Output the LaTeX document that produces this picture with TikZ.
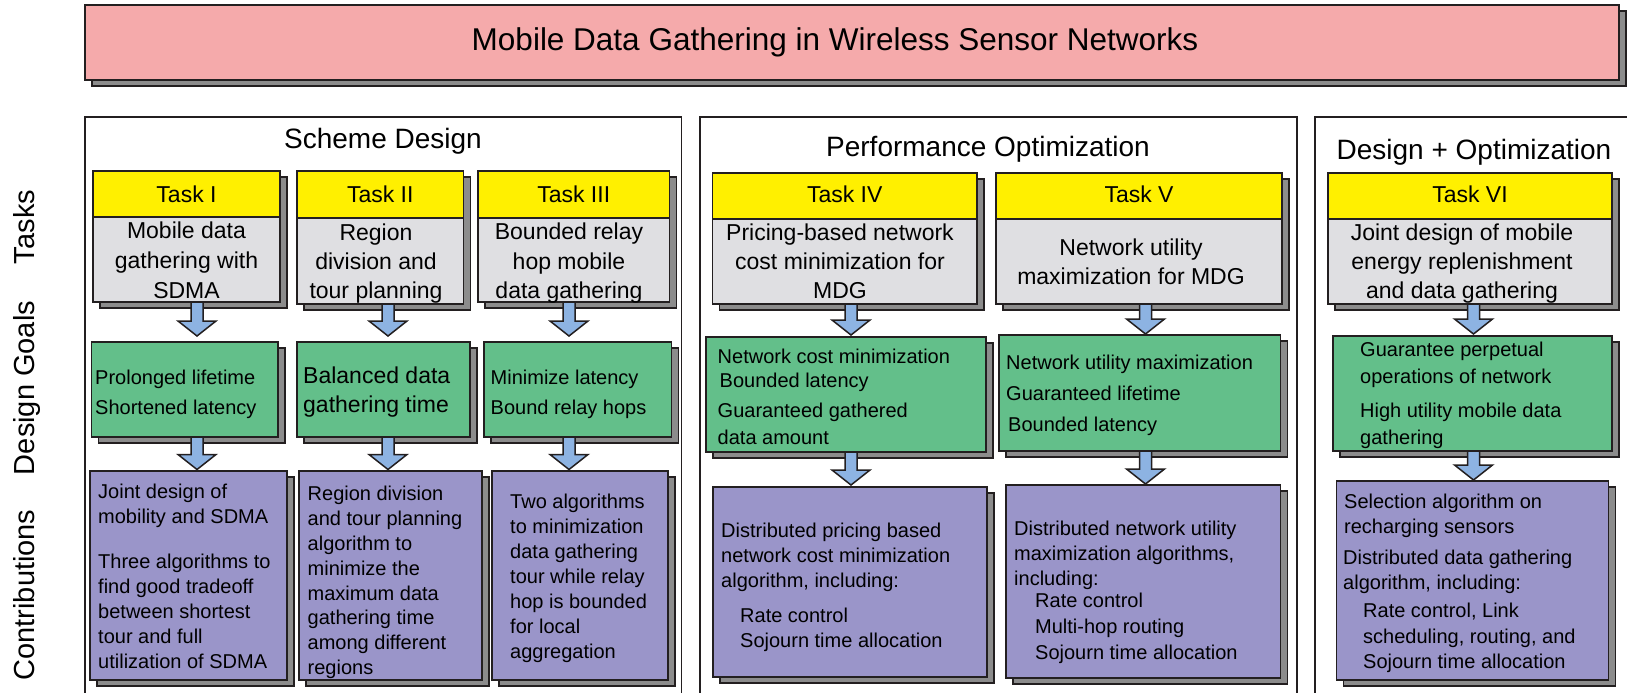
\documentclass[tikz,border=0pt]{standalone}
\usepackage{fontspec}
\setmainfont{Liberation Sans}
\usetikzlibrary{shadows,calc}
\definecolor{titlepink}{HTML}{F5AAAB}
\definecolor{tyellow}{HTML}{FFF000}
\definecolor{tgray}{HTML}{DFDFE2}
\definecolor{ggreen}{HTML}{63BF8A}
\definecolor{ppurple}{HTML}{9A95C9}
\definecolor{ablue}{HTML}{8DB3E2}
\definecolor{shgray}{HTML}{8C8C8C}
\definecolor{bcol}{HTML}{231F20}
\newcommand\mkbox[6]{\node[box,#6,minimum width={(#4-#2)*1pt},minimum height={(#5-#3)*1pt}] (#1) at (#2,#3) {};}
\newcommand\txl[4]{\foreach \yy/\ltext [count=\i] in {#4} {\node[#3,inner sep=0pt] (#1-\i) at (#2,\yy) {\ltext};}}
\newcommand\barrow[4]{\draw[blockarrow] let \p1=(#1.south -| #3), \p2=(#2.north -| #3) in
 (\x1-6pt,\y1) -- (\x1-6pt,\y2+#4pt+15pt) -- (\x1-19pt,\y2+#4pt+15pt) -- (\x1,\y2+#4pt) -- (\x1+19pt,\y2+#4pt+15pt) -- (\x1+6pt,\y2+#4pt+15pt) -- (\x1+6pt,\y1) -- cycle;}
\begin{document}
\begin{tikzpicture}[x=1pt,y=-1pt,
 box/.style={draw=bcol, line width=1.6pt, inner sep=0pt, outer sep=0pt, anchor=north west},
 shadowed/.style={drop shadow={shadow xshift=7pt, shadow yshift=-6pt, fill=shgray, draw=bcol, line width=1.2pt, opacity=1}},
 blockarrow/.style={draw=bcol, line width=1.5pt, fill=ablue, line join=miter},
 gtxt/.style={font=\fontsize{23}{28}\selectfont, anchor=base},
 htxt/.style={font=\fontsize{23}{28}\selectfont, anchor=base},
 ltxt/.style={font=\fontsize{20}{24}\selectfont, anchor=base west},
 ltxtb/.style={font=\fontsize{23}{28}\selectfont, anchor=base west},
 sectitle/.style={font=\fontsize{28}{33}\selectfont, anchor=base, inner sep=0pt},
 sidelabel/.style={font=\fontsize{29}{34}\selectfont, rotate=90, anchor=base, inner sep=0pt}
]
\useasboundingbox (0,0) rectangle (1627,693);
\clip (0,0) rectangle (1627,693);
\fill[white] (0,0) rectangle (1627,693);

% title
\mkbox{title}{85}{5}{1619}{80}{fill=titlepink,shadowed}
\node[font=\fontsize{31.5}{37}\selectfont, anchor=base, inner sep=0pt] (titletxt) at (835,51) {Mobile Data Gathering in Wireless Sensor Networks};

% side labels
\node[sidelabel] (lbltasks) at (34,227) {Tasks};
\node[sidelabel] (lblgoals) at (34,388) {Design Goals};
\node[sidelabel] (lblcontr) at (34,595) {Contributions};

% sections
\mkbox{s1}{85}{117}{681.5}{720}{}
\mkbox{s2}{700}{117}{1297}{720}{}
\mkbox{s3}{1315}{117}{1700}{720}{}
\node[sectitle] (s1t) at (383,148) {Scheme Design};
\node[sectitle] (s2t) at (988,156.5) {Performance Optimization};
\node[sectitle] (s3t) at (1474,159) {Design + Optimization};

% task boxes
\mkbox{t1}{93}{171}{280}{302}{fill=tgray,shadowed}
\mkbox{t2}{297}{171}{463.5}{304}{fill=tgray,shadowed}
\mkbox{t3}{478}{171}{669.5}{302}{fill=tgray,shadowed}
\mkbox{t4}{712.5}{173}{977}{304}{fill=tgray,shadowed}
\mkbox{t5}{996}{173}{1282}{304}{fill=tgray,shadowed}
\mkbox{t6}{1328}{173}{1612}{304}{fill=tgray,shadowed}
\mkbox{h1}{93}{171}{280}{217}{fill=tyellow}
\mkbox{h2}{297}{171}{463.5}{218}{fill=tyellow}
\mkbox{h3}{478}{171}{669.5}{218}{fill=tyellow}
\mkbox{h4}{712.5}{173}{977}{219}{fill=tyellow}
\mkbox{h5}{996}{173}{1282}{219}{fill=tyellow}
\mkbox{h6}{1328}{173}{1612}{219}{fill=tyellow}
\node[htxt] (h1t) at (h1.center |- 0,202) {Task I};
\node[htxt] (h2t) at (h2.center |- 0,202) {Task II};
\node[htxt] (h3t) at (h3.center |- 0,202) {Task III};
\node[htxt] (h4t) at (h4.center |- 0,202) {Task IV};
\node[htxt] (h5t) at (h5.center |- 0,202) {Task V};
\node[htxt] (h6t) at (h6.center |- 0,202) {Task VI};

\txl{t1t}{186.5}{gtxt}{238/{Mobile data},268/{gathering with},298/{SDMA}}
\txl{t2t}{376}{gtxt}{240/{Region},269/{division and},298/{tour planning}}
\txl{t3t}{569}{gtxt}{239/{Bounded relay},269/{hop mobile},298/{data gathering}}
\txl{t4t}{840}{gtxt}{240/{Pricing-based network},269/{cost minimization for},298/{MDG}}
\txl{t5t}{1131}{gtxt}{255/{Network utility},284/{maximization for MDG}}
\txl{t6t}{1462}{gtxt}{240/{Joint design of mobile},269/{energy replenishment},298/{and data gathering}}

% goal boxes
\mkbox{g1}{91.5}{342}{278}{437}{fill=ggreen,shadowed}
\mkbox{g2}{297}{342}{470}{437}{fill=ggreen,shadowed}
\mkbox{g3}{484}{342}{671.5}{437}{fill=ggreen,shadowed}
\mkbox{g4}{706}{337}{986}{452}{fill=ggreen,shadowed}
\mkbox{g5}{999}{335}{1280.5}{451}{fill=ggreen,shadowed}
\mkbox{g6}{1333}{336}{1612}{451}{fill=ggreen,shadowed}

\txl{g1t}{95}{ltxt}{384/{Prolonged lifetime},414/{Shortened latency}}
\txl{g2t}{303}{ltxtb}{383/{Balanced data},412/{gathering time}}
\txl{g3t}{490.5}{ltxt}{384/{Minimize latency},414/{Bound relay hops}}
\node[ltxt,inner sep=0pt] (g4t-1) at (717.5,363) {Network cost minimization};
\node[ltxt,inner sep=0pt] (g4t-2) at (719.5,387) {Bounded latency};
\node[ltxt,inner sep=0pt] (g4t-3) at (717.5,417) {Guaranteed gathered};
\node[ltxt,inner sep=0pt] (g4t-4) at (717.5,444) {data amount};
\node[ltxt,inner sep=0pt] (g5t-1) at (1006,369) {Network utility maximization};
\node[ltxt,inner sep=0pt] (g5t-2) at (1006,400.5) {Guaranteed lifetime};
\node[ltxt,inner sep=0pt] (g5t-3) at (1008,431.5) {Bounded latency};
\txl{g6t}{1360}{ltxt}{356/{Guarantee perpetual},383.5/{operations of network},417.5/{High utility mobile data},444/{gathering}}

% contribution boxes
\mkbox{p1}{90}{471}{287}{680}{fill=ppurple,shadowed}
\mkbox{p2}{299}{471}{482}{680}{fill=ppurple,shadowed}
\mkbox{p3}{492}{471}{668}{680}{fill=ppurple,shadowed}
\mkbox{p4}{713}{487}{987}{677}{fill=ppurple,shadowed}
\mkbox{p5}{1006}{485}{1280.5}{678}{fill=ppurple,shadowed}
\mkbox{p6}{1336.5}{481}{1608.5}{680}{fill=ppurple,shadowed}

\txl{p1t}{98}{ltxt}{498/{Joint design of},523/{mobility and SDMA},568/{Three algorithms to},593/{find good tradeoff},618/{between shortest},643/{tour and full},668/{utilization of SDMA}}
\txl{p2t}{307.5}{ltxt}{500/{Region division},525/{and tour planning},550/{algorithm to},575/{minimize the},600/{maximum data},624.5/{gathering time},649.5/{among different},674.5/{regions}}
\txl{p3t}{510}{ltxt}{508.5/{Two algorithms},533.5/{to minimization},558.5/{data gathering},583.5/{tour while relay},608.5/{hop is bounded},633.5/{for local},658.5/{aggregation}}
\txl{p4t}{721}{ltxt}{537.5/{Distributed pricing based},562.5/{network cost minimization},587.5/{algorithm, including:}}
\txl{p4u}{740}{ltxt}{622.5/{Rate control},647.5/{Sojourn time allocation}}
\txl{p5t}{1014}{ltxt}{535/{Distributed network utility},560/{maximization algorithms,},585.5/{including:}}
\txl{p5u}{1035}{ltxt}{607.5/{Rate control},633.5/{Multi-hop routing},659.5/{Sojourn time allocation}}
\txl{p6t}{1344}{ltxt}{508.5/{Selection algorithm on},533.5/{recharging sensors}}
\txl{p6u}{1343}{ltxt}{564.5/{Distributed data gathering},589/{algorithm, including:}}
\txl{p6v}{1363}{ltxt}{617.5/{Rate control, Link},643.5/{scheduling, routing, and},668/{Sojourn time allocation}}

% arrows
\coordinate (ax1) at (197,0);
\coordinate (ax2) at (388,0);
\coordinate (ax3) at (569,0);
\coordinate (ax4) at (851,0);
\coordinate (ax5) at (1145.5,0);
\coordinate (ax6) at (1473.5,0);
\barrow{t1}{g1}{ax1}{6}
\barrow{t2}{g2}{ax2}{6}
\barrow{t3}{g3}{ax3}{6}
\barrow{t4}{g4}{ax4}{2}
\barrow{t5}{g5}{ax5}{1}
\barrow{t6}{g6}{ax6}{2}
\barrow{g1}{p1}{ax1}{1.5}
\barrow{g2}{p2}{ax2}{1.5}
\barrow{g3}{p3}{ax3}{1.5}
\barrow{g4}{p4}{ax4}{2}
\barrow{g5}{p5}{ax5}{1}
\barrow{g6}{p6}{ax6}{1}
\end{tikzpicture}
\end{document}
